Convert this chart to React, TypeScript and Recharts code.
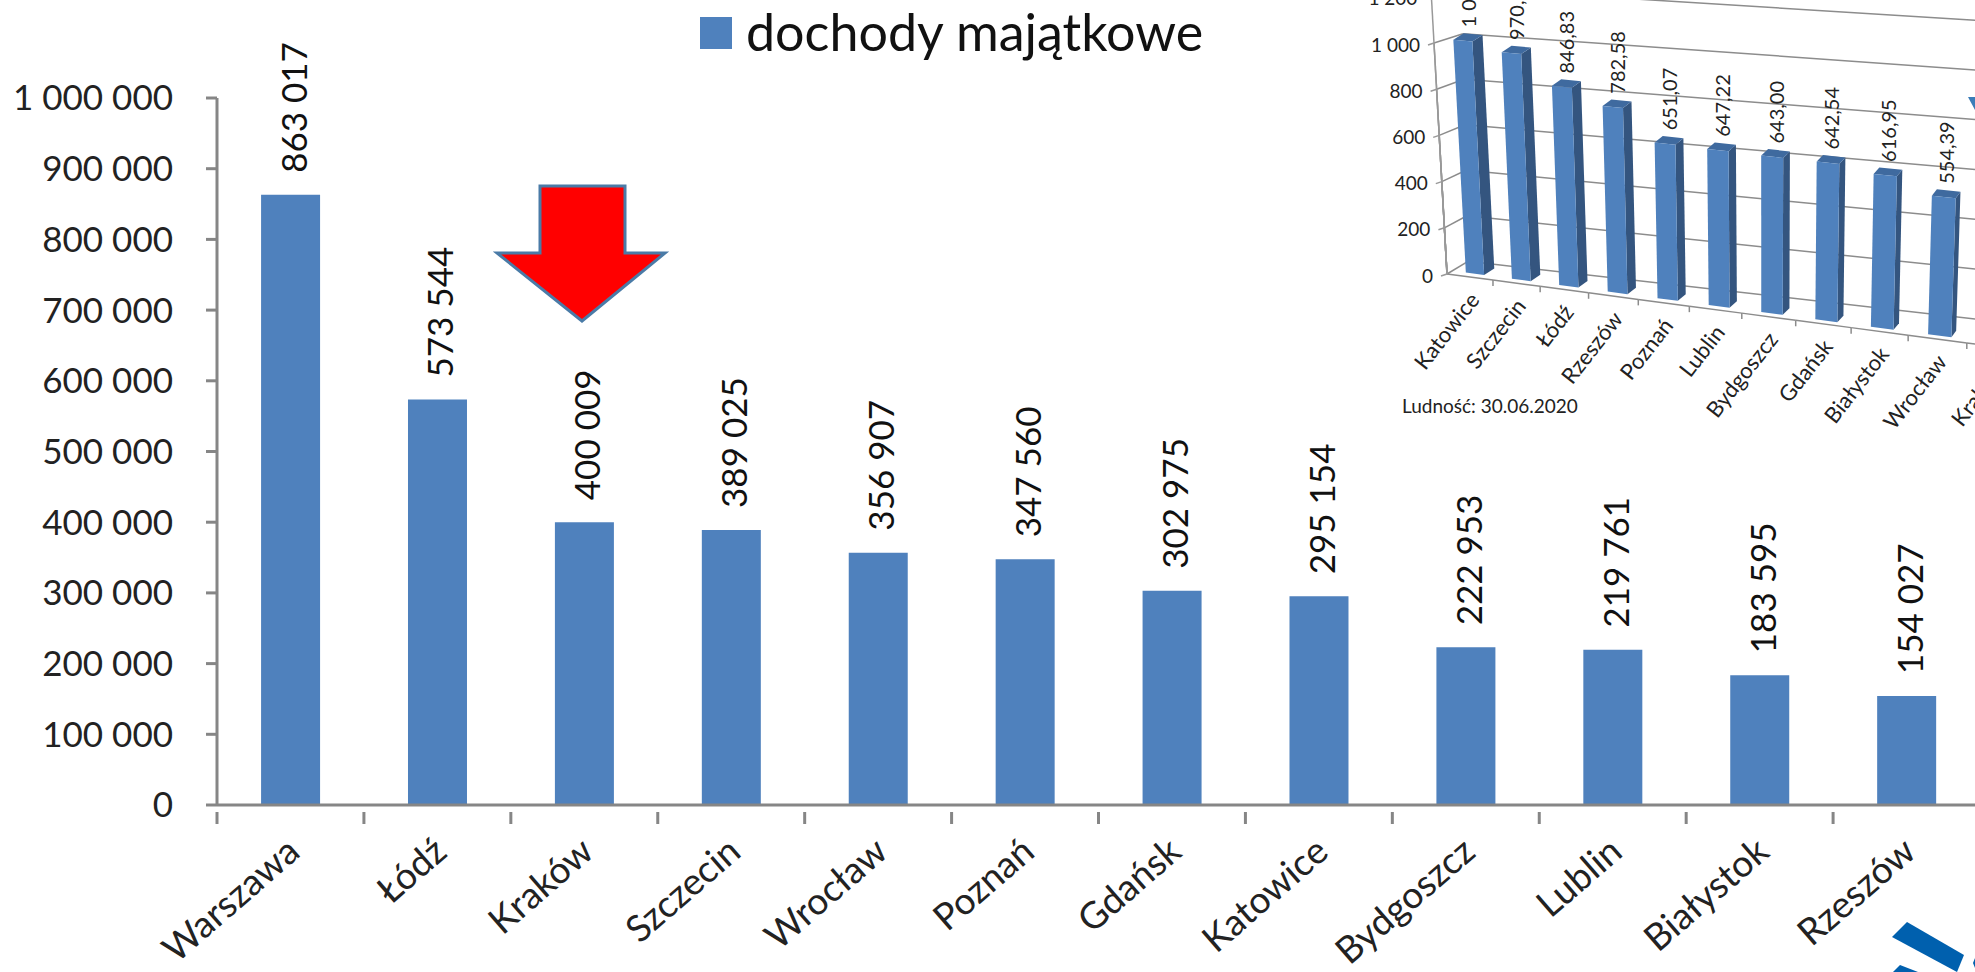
import { BarChart, Bar, XAxis, YAxis, Legend, LabelList, CartesianGrid } from "recharts";

const cities = ["Warszawa", "Łódź", "Kraków", "Szczecin", "Wrocław", "Poznań", "Gdańsk", "Katowice", "Bydgoszcz", "Lublin", "Białystok", "Rzeszów"];
const dochody = [863017, 573544, 400009, 389025, 356907, 347560, 302975, 295154, 222953, 219761, 183595, 154027];
const mainTicks = [0, 100000, 200000, 300000, 400000, 500000, 600000, 700000, 800000, 900000, 1000000];

const insetCities = ["Katowice", "Szczecin", "Łódź", "Rzeszów", "Poznań", "Lublin", "Bydgoszcz", "Gdańsk", "Białystok", "Wrocław", "Kraków"];
const perCapita = [1005.43, 970.35, 846.83, 782.58, 651.07, 647.22, 643.0, 642.54, 616.95, 554.39, 540.12];
const insetTicks = [0, 200, 400, 600, 800, 1000, 1200];

const mainData = cities.map((name, i) => ({ name, value: dochody[i] }));
const insetData = insetCities.map((name, i) => ({ name, value: perCapita[i] }));

const FONT = "Lato";
const AXIS = "#868686";
const BLUE = "#4f81bd";
const fmt = (v: number) => String(v).replace(/\B(?=(\d{3})+$)/g, " ");
const fmtDec = (v: number) => {
  const [whole, dec] = v.toFixed(2).split(".");
  return `${fmt(Number(whole))},${dec}`;
};

function MainXTick({ x, y, payload }: any) {
  const lx = x + 2;
  const ly = y + 31;
  return (
    <g>
      <line x1={x - 73.45} x2={x - 73.45} y1={y - 1} y2={y + 11} stroke={AXIS} strokeWidth={3} />
      <text x={lx} y={ly} textAnchor="end" fontFamily={FONT} fontSize={37} fill="#222" dominantBaseline="central" transform={`rotate(-41 ${lx} ${ly})`}>
        {payload.value}
      </text>
    </g>
  );
}

function MainLabel({ x, y, width, value }: any) {
  const cx = x + width / 2 + 2;
  const cy = y - 22;
  return (
    <text x={cx} y={cy} fontFamily={FONT} fontSize={35} fill="#111" dominantBaseline="central" transform={`rotate(-90 ${cx} ${cy})`}>
      {fmt(value)}
    </text>
  );
}

// fake perspective for the small 3D chart: plot space -> picture space
const BAND = 100;
const PLOT_LEFT = 100;
const PLOT_BOTTOM = 872;
const PLOT_H = 772;
const toQ = (px: number) => (px - PLOT_LEFT) / BAND;
const toV = (py: number) => ((PLOT_BOTTOM - py) / PLOT_H) * 1200;

function front(q: number, v: number) {
  const xb = 1447 + (45.4 * q) / (1 - 0.01266 * q);
  const yb = 274 + 0.1327 * (xb - 1447);
  const h = 231 + 0.0393 * (xb - 1447);
  const lean = -13 + 0.0414 * (xb - 1447);
  return [xb + (lean * v) / 1000, yb - (h * v) / 1000, xb];
}

function wall(q: number, v: number) {
  const [x, y, xb] = front(q, v);
  const dx = 21 - 0.0229 * (xb - 1447) + (8 * v) / 1000;
  const dy = -12.7 - 0.0214 * (xb - 1447) + (3.4 * v) / 1000;
  return [x + dx, y + dy];
}

function barPoint(q: number, v: number, d: number) {
  const [x, y, xb] = front(q, v);
  const dx = 21 - 0.0229 * (xb - 1447);
  return [x + dx * d, y - 13 * d];
}

const pts = (list: number[][]) => list.map((p) => `${p[0]},${p[1]}`).join(" ");

function Bar3D({ x, y, width }: any) {
  const q0 = toQ(x);
  const q1 = toQ(x + width);
  const v = toV(y);
  const a = barPoint(q0, 0, 0.25);
  const b = barPoint(q1, 0, 0.25);
  const c = barPoint(q1, v, 0.25);
  const e = barPoint(q0, v, 0.25);
  const b2 = barPoint(q1, 0, 0.75);
  const c2 = barPoint(q1, v, 0.75);
  const e2 = barPoint(q0, v, 0.75);
  return (
    <g>
      <polygon points={pts([b, c, c2, b2])} fill="#34557f" />
      <polygon points={pts([e, c, c2, e2])} fill="#3f6a9f" />
      <polygon points={pts([a, b, c, e])} fill={BLUE} />
    </g>
  );
}

function InsetLabel({ x, y, width, value }: any) {
  const p = barPoint(toQ(x + width / 2), toV(y), 0.5);
  const cx = p[0];
  const cy = p[1] - 10;
  return (
    <text x={cx} y={cy} fontFamily={FONT} fontSize={20} fill="#222" dominantBaseline="central" transform={`rotate(-90 ${cx} ${cy})`}>
      {fmtDec(value)}
    </text>
  );
}

function InsetYTick({ payload }: any) {
  const v = payload.value;
  const p = front(0, v);
  const base = front(0, 0);
  return (
    <g>
      <line x1={base[0]} y1={base[1]} x2={p[0]} y2={p[1]} stroke="#999" strokeWidth={1.5} />
      <line x1={p[0] - 6} y1={p[1] + 2} x2={p[0]} y2={p[1]} stroke="#999" strokeWidth={1.5} />
      <text x={p[0] - 14} y={p[1] + 1} textAnchor="end" fontFamily={FONT} fontSize={19} fill="#222" dominantBaseline="central">
        {fmt(v)}
      </text>
    </g>
  );
}

function InsetXTick({ x, payload }: any) {
  const q = toQ(x);
  const a = front(q - 0.5, 0);
  const b = front(q + 0.5, 0);
  const c = front(q, 0);
  const lx = c[0] + 4;
  const ly = c[1] + 18;
  return (
    <g>
      <line x1={a[0]} y1={a[1]} x2={b[0]} y2={b[1]} stroke="#8c8c8c" strokeWidth={1.5} />
      <line x1={b[0]} y1={b[1]} x2={b[0]} y2={b[1] + 6} stroke="#8c8c8c" strokeWidth={1.5} />
      <text x={lx} y={ly} textAnchor="end" fontFamily={FONT} fontSize={22} fill="#222" dominantBaseline="central" transform={`rotate(-52 ${lx} ${ly})`}>
        {payload.value}
      </text>
    </g>
  );
}

function WallLine({ y1 }: any) {
  const v = toV(y1);
  const a = front(0, v);
  const b = wall(0, v);
  const c = wall(12, v);
  return (
    <g key={v}>
      <line x1={a[0]} y1={a[1]} x2={b[0]} y2={b[1]} stroke="#8c8c8c" strokeWidth={1.5} />
      <line x1={b[0]} y1={b[1]} x2={c[0]} y2={c[1]} stroke="#8c8c8c" strokeWidth={1.5} />
    </g>
  );
}

export default function App() {
  return (
    <div style={{ position: "fixed", left: 0, top: 0, width: 1975, height: 972, overflow: "hidden", background: "#fff" }}>
      <div style={{ position: "absolute", left: 0, top: 0 }}>
        <BarChart width={2000} height={972} data={mainData} margin={{ top: 36, right: 20, left: 0, bottom: 0 }} barCategoryGap="30%">
          <XAxis dataKey="name" height={167} interval={0} axisLine={{ stroke: AXIS, strokeWidth: 3 }} tickLine={false} tick={<MainXTick />} />
          <YAxis
            width={217}
            domain={[0, 1000000]}
            ticks={mainTicks}
            tickFormatter={fmt}
            axisLine={{ stroke: AXIS, strokeWidth: 3 }}
            tickLine={{ stroke: AXIS, strokeWidth: 3 }}
            tickSize={11}
            tickMargin={33}
            tick={{ fontFamily: FONT, fontSize: 35, fill: "#222" }}
          />
          <Legend
            verticalAlign="top"
            align="left"
            iconType="square"
            iconSize={32}
            wrapperStyle={{ position: "absolute", left: 700, top: -5, width: 560, fontFamily: FONT, fontSize: 52 }}
            formatter={(v) => <span style={{ color: "#111", marginLeft: 10, position: "relative", top: 5 }}>{v}</span>}
          />
          <Bar dataKey="value" name="dochody majątkowe" fill={BLUE} isAnimationActive={false}>
            <LabelList dataKey="value" content={<MainLabel />} />
          </Bar>
        </BarChart>
      </div>

      <div style={{ position: "absolute", left: 0, top: 0 }}>
        <BarChart width={2200} height={972} data={insetData} margin={{ top: 100, right: 1000, left: 0, bottom: 0 }} barCategoryGap="30%">
          <CartesianGrid vertical={false} horizontal={(props: any) => <WallLine key={props.y1} {...props} />} />
          <XAxis dataKey="name" height={100} interval={0} axisLine={false} tickLine={false} tick={<InsetXTick />} />
          <YAxis width={100} domain={[0, 1200]} ticks={insetTicks} axisLine={false} tickLine={false} tick={<InsetYTick />} />
          <Bar dataKey="value" shape={<Bar3D />} isAnimationActive={false}>
            <LabelList dataKey="value" content={<InsetLabel />} />
          </Bar>
        </BarChart>
      </div>

      <svg width={1975} height={972} style={{ position: "absolute", left: 0, top: 0 }}>
        <polygon points="540,186 625,186 625,253 665,253 582,321 497,253 540,253" fill="#ff0000" stroke="#4a7ba7" strokeWidth={3} />
        <text x={1402} y={405} fontFamily={FONT} fontSize={19} fill="#222" dominantBaseline="central">
          Ludność: 30.06.2020
        </text>
        <polygon points="1968,97 1975,97 1975,110" fill="#3a7cb8" />
        <polygon points="1907,922 1892,937 1957,972 1964,955" fill="#0060ae" />
        <polygon points="1900,965 1893,972 1918,972" fill="#0060ae" />
        <polygon points="1973,963 1975,958 1975,968" fill="#0060ae" />
      </svg>
    </div>
  );
}
